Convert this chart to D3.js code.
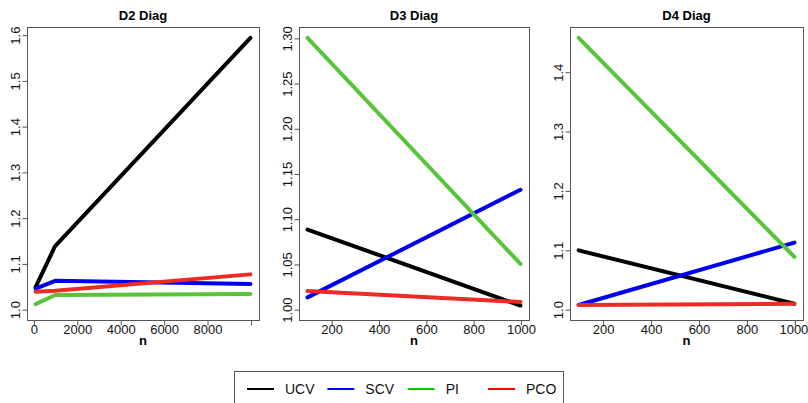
<!DOCTYPE html>
<html><head><meta charset="utf-8">
<script src="https://cdn.jsdelivr.net/npm/d3@7"></script>
<style>
body{margin:0;background:#fff;}
svg{display:block;font-family:"Liberation Sans",Arial,Helvetica,sans-serif;}
</style></head>
<body>
<svg id="chart" width="808" height="403"></svg>
<script>
// ---- data ----
const methods = ["UCV", "SCV", "PI", "PCO"];
const lineColors = ["#000000", "#0000F0", "#58C43A", "#EC2B25"];
const legendColors = ["#000000", "#0000FF", "#00CD00", "#FF0000"];

const titles = ["D2 Diag", "D3 Diag", "D4 Diag"];
const nD2 = [100, 1000, 10000];
const nD3 = [100, 1000];
const nD4 = [100, 1000];

const d2UCV = [1.048, 1.138, 1.593];
const d2SCV = [1.045, 1.062, 1.055];
const d2PI  = [1.011, 1.031, 1.033];
const d2PCO = [1.038, 1.040, 1.076];

const d3UCV = [1.088, 1.004];
const d3SCV = [1.013, 1.132];
const d3PI  = [1.300, 1.050];
const d3PCO = [1.020, 1.008];

const d4UCV = [1.099, 1.009];
const d4SCV = [1.007, 1.112];
const d4PI  = [1.457, 1.088];
const d4PCO = [1.007, 1.009];

const xTicksD2 = [0, 2000, 4000, 6000, 8000, 10000];
const xTickLabelsD2 = ["0", "2000", "4000", "6000", "8000", ""];
const xTicksD34 = [200, 400, 600, 800, 1000];
const yTicksD2 = [1.0, 1.1, 1.2, 1.3, 1.4, 1.5, 1.6];
const yTicksD3 = [1.00, 1.05, 1.10, 1.15, 1.20, 1.25, 1.30];
const yTicksD4 = [1.0, 1.1, 1.2, 1.3, 1.4];

// ---- layout ----
const svg = d3.select("#chart");
const plotTop = 27, plotBottom = 320;

function rPad(lo, hi) { const p = (hi - lo) * 0.04; return [lo - p, hi + p]; }

const panels = [
  {title: titles[0], n: nD2, series: [d2UCV, d2SCV, d2PI, d2PCO], left: 27, right: 259,
   xt: xTicksD2, xl: xTickLabelsD2, yt: yTicksD2, yfmt: d3.format(".1f")},
  {title: titles[1], n: nD3, series: [d3UCV, d3SCV, d3PI, d3PCO], left: 299, right: 529,
   xt: xTicksD34, xl: xTicksD34.map(String), yt: yTicksD3, yfmt: d3.format(".2f")},
  {title: titles[2], n: nD4, series: [d4UCV, d4SCV, d4PI, d4PCO], left: 570, right: 803,
   xt: xTicksD34, xl: xTicksD34.map(String), yt: yTicksD4, yfmt: d3.format(".1f")}
];

panels.forEach((p, pi) => {
  const g = svg.append("g");
  const x = d3.scaleLinear().domain(rPad(d3.min(p.n), d3.max(p.n))).range([p.left, p.right]);
  const all = p.series.flat().concat([1.0]);
  const y = d3.scaleLinear().domain(rPad(d3.min(all), d3.max(all))).range([plotBottom, plotTop]);

  // lines
  const line = d3.line().x((d, i) => x(p.n[i])).y(d => y(d));
  p.series.forEach((s, k) => {
    g.append("path").attr("d", line(s)).attr("fill", "none")
      .attr("stroke", lineColors[k]).attr("stroke-width", 4)
      .attr("stroke-linejoin", "round").attr("stroke-linecap", "round");
  });

  // box
  g.append("rect").attr("x", p.left + 0.5).attr("y", plotTop + 0.5)
    .attr("width", p.right - p.left).attr("height", plotBottom - plotTop)
    .attr("fill", "none").attr("stroke", "#555").attr("stroke-width", 1);

  // x axis
  const xa = d3.axisBottom(x).tickValues(p.xt).tickSize(5).tickPadding(2)
    .tickFormat((d, i) => p.xl[i]);
  const xg = g.append("g").attr("transform", `translate(0.5,${plotBottom + 0.5})`).call(xa);
  xg.select(".domain").attr("d", `M${x(p.xt[0])},0H${x(p.xt[p.xt.length - 1])}`).attr("stroke", "#555");
  xg.selectAll(".tick line").attr("stroke", "#555");
  xg.selectAll(".tick text").attr("font-size", 13).attr("fill", "#111")
    .attr("font-family", "Liberation Sans, Arial, sans-serif").attr("dy", null).attr("y", 13.5);
  if (pi === 2) {
    xg.selectAll(".tick text").filter((d, i, nodes) => i === nodes.length - 1).attr("dx", -1.5);
  }

  // y axis
  const ya = d3.axisLeft(y).tickValues(p.yt).tickSize(5).tickFormat(p.yfmt);
  const yg = g.append("g").attr("transform", `translate(${p.left + 0.5},0.5)`).call(ya);
  yg.select(".domain").attr("d", `M0,${y(p.yt[0])}V${y(p.yt[p.yt.length - 1])}`).attr("stroke", "#555");
  yg.selectAll(".tick line").attr("stroke", "#555");
  yg.selectAll(".tick text").attr("font-size", 13).attr("fill", "#111")
    .attr("font-family", "Liberation Sans, Arial, sans-serif")
    .attr("x", null).attr("dy", null).attr("text-anchor", "middle")
    .attr("transform", "translate(-8,0) rotate(-90)");

  // title
  g.append("text").attr("x", (p.left + p.right) / 2).attr("y", 19.5)
    .attr("text-anchor", "middle").attr("font-size", 13).attr("font-weight", "bold")
    .text(p.title);
  // x label
  g.append("text").attr("x", (p.left + p.right) / 2).attr("y", 345)
    .attr("text-anchor", "middle").attr("font-size", 13).attr("font-weight", "bold")
    .text("n");
});

// ---- legend ----
const lg = svg.append("g");
lg.append("rect").attr("x", 234.5).attr("y", 371.5).attr("width", 329).attr("height", 40)
  .attr("fill", "none").attr("stroke", "#555").attr("stroke-width", 1);
const legX = d3.scalePoint().domain(methods).range([247, 488]);
methods.forEach((m, k) => {
  const lx = legX(m);
  lg.append("line").attr("x1", lx).attr("x2", lx + 27).attr("y1", 389).attr("y2", 389)
    .attr("stroke", legendColors[k]).attr("stroke-width", 2);
  lg.append("text").attr("x", lx + 38).attr("y", 394).attr("font-size", 14)
    .attr("fill", "#111").text(m);
});
</script>
</body></html>
